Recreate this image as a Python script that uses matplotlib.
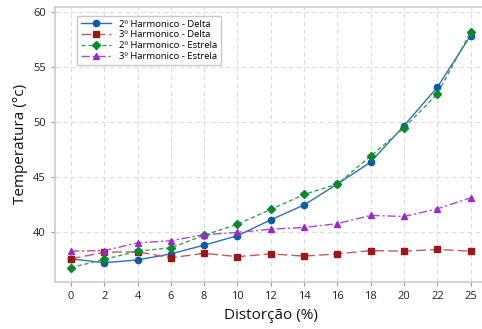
import numpy as np
import matplotlib
matplotlib.use('Agg')
import matplotlib.pyplot as plt

# Dados
distorcao = ['0', '2', '4', '6', '8', '10', '12', '14', '16', '18', '20', '22', '25']
h2_delta = [37.6, 37.25, 37.5, 38.05, 38.85, 39.7, 41.15, 42.5, 44.4, 46.4, 49.7, 53.2, 57.9]
h3_delta = [37.6, 38.2, 38.25, 37.7, 38.1, 37.8, 38.05, 37.85, 38.05, 38.35, 38.3, 38.45, 38.3]
h2_estrela = [36.8, 37.55, 38.3, 38.6, 39.75, 40.75, 42.1, 43.45, 44.4, 46.95, 49.5, 52.6, 58.2]
h3_estrela = [38.3, 38.35, 39.05, 39.25, 39.8, 40.0, 40.3, 40.45, 40.8, 41.55, 41.45, 42.15, 43.15]

plt.rcParams['font.family'] = ['Open Sans', 'DejaVu Sans']

fig = plt.figure(figsize=(4.82, 3.29), dpi=100)
ax = fig.add_axes([0.114, 0.143, 0.897, 0.836])
x = np.arange(len(distorcao))

ax.plot(x, h2_delta, color='#2c6fba', lw=1.0, ls='-', marker='o', ms=4.5,
        mfc='#0d5aa7', mec='#0d5aa7', label='2º Harmonico - Delta', zorder=3)
ax.plot(x, h3_delta, color='#c85a5a', lw=1.0, ls=(0, (7, 3)), marker='s', ms=4.8,
        mfc='#9b1818', mec='#9b1818', label='3º Harmonico - Delta', zorder=3)
ax.plot(x, h2_estrela, color='#3fa055', lw=1.0, ls=(0, (3, 2)), marker='D', ms=4.5,
        mfc='#098a28', mec='#098a28', label='2º Harmonico - Estrela', zorder=3)
ax.plot(x, h3_estrela, color='#a64cd6', lw=1.0, ls=(0, (6, 2, 1.5, 2)), marker='^', ms=5,
        mfc='#9b28c8', mec='#9b28c8', label='3º Harmonico - Estrela', zorder=3)

ax.set_xlim(-0.48, 12.5)
ax.set_ylim(35.5, 60.5)
ax.set_xticks(x)
ax.set_xticklabels(distorcao)
ax.set_yticks([40, 45, 50, 55, 60])

ax.grid(True, color='#dddddd', ls=(0, (4, 3)), lw=0.8)
ax.set_axisbelow(True)
for s in ax.spines.values():
    s.set_color('#cccccc')
    s.set_linewidth(1.2)
ax.tick_params(colors='#999999', labelcolor='#222222', labelsize=8, length=3)

ax.set_xlabel('Distorção (%)', fontsize=11, color='#111111')
ax.set_ylabel('Temperatura (°c)', fontsize=11, color='#111111')

leg = ax.legend(loc='upper left', fontsize=6.8, frameon=True, fancybox=False,
                edgecolor='#bbbbbb', bbox_to_anchor=(0.04, 0.985),
                handlelength=3.2, borderpad=0.4, labelspacing=0.2)
leg.get_frame().set_linewidth(1.0)

plt.savefig('out.png', dpi=100)
